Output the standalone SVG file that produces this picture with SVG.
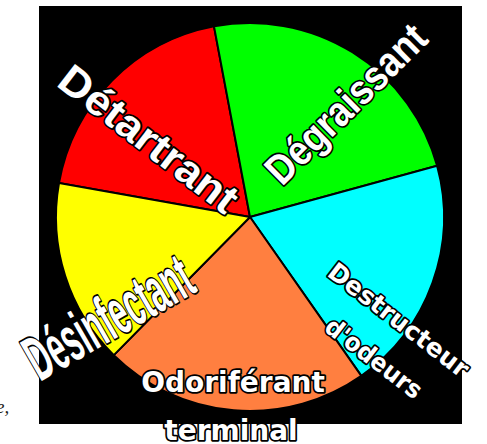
<svg xmlns="http://www.w3.org/2000/svg" width="487" height="444" viewBox="0 0 487 444">
<style>
.sl{stroke:#000;stroke-width:2;stroke-linejoin:round}
.lb{fill:#fff;stroke:#000;stroke-width:3.5;stroke-linejoin:round;paint-order:stroke;font-weight:bold}
.ar{font-family:"Liberation Sans",Arial,sans-serif}
.dj{font-family:"DejaVu Sans",sans-serif}
</style>
<rect x="0" y="0" width="487" height="444" fill="#fff"/>
<rect id="background" x="39" y="6" width="423" height="418" fill="#000"/>
<g id="slices">
<g id="slice-detartrant"><path class="sl" fill="#ff0000" d="M250,217 L59,183 A194,194 0 0 1 213.98,26.38 Z"/></g>
<g id="slice-degraissant"><path class="sl" fill="#00ff00" d="M250,217 L213.98,26.38 A194,194 0 0 1 437.1,165.8 Z"/></g>
<g id="slice-destructeur"><path class="sl" fill="#00ffff" d="M250,217 L437.1,165.8 A194,194 0 0 1 361.3,375.9 Z"/></g>
<g id="slice-odoriferant"><path class="sl" fill="#ff7f40" d="M250,217 L361.3,375.9 A194,194 0 0 1 113.8,355.1 Z"/></g>
<g id="slice-desinfectant"><path class="sl" fill="#ffff00" d="M250,217 L113.8,355.1 A194,194 0 0 1 59,183 Z"/></g>
</g>
<g id="connectors"></g>
<g id="labels">
<g id="label-detartrant"><text class="lb ar" transform="translate(55,85) rotate(37.5)" font-size="42" textLength="214" lengthAdjust="spacingAndGlyphs">Détartrant</text></g>
<g id="label-degraissant"><text class="lb ar" transform="translate(282,187) rotate(-44.6)" font-size="42" textLength="208" lengthAdjust="spacingAndGlyphs">Dégraissant</text></g>
<g id="label-desinfectant"><text class="lb ar" transform="translate(40,382) rotate(-30)" font-size="64" textLength="183" lengthAdjust="spacingAndGlyphs">Désinfectant</text></g>
<g id="label-destructeur"><text class="lb dj" transform="translate(326,275) rotate(37.5)" font-size="25" textLength="170" lengthAdjust="spacingAndGlyphs">Destructeur</text>
<text class="lb dj" transform="translate(323,330) rotate(37.5)" font-size="25" textLength="115" lengthAdjust="spacingAndGlyphs">d'odeurs</text></g>
<g id="label-odoriferant"><text class="lb dj" x="233" y="392" font-size="28" text-anchor="middle">Odoriférant</text>
<text class="lb dj" x="231" y="440" font-size="28" text-anchor="middle">terminal</text></g>
</g>
<text x="-4" y="413" font-family="'Liberation Serif',serif" font-style="italic" font-size="19" fill="#222">e,</text>
</svg>
